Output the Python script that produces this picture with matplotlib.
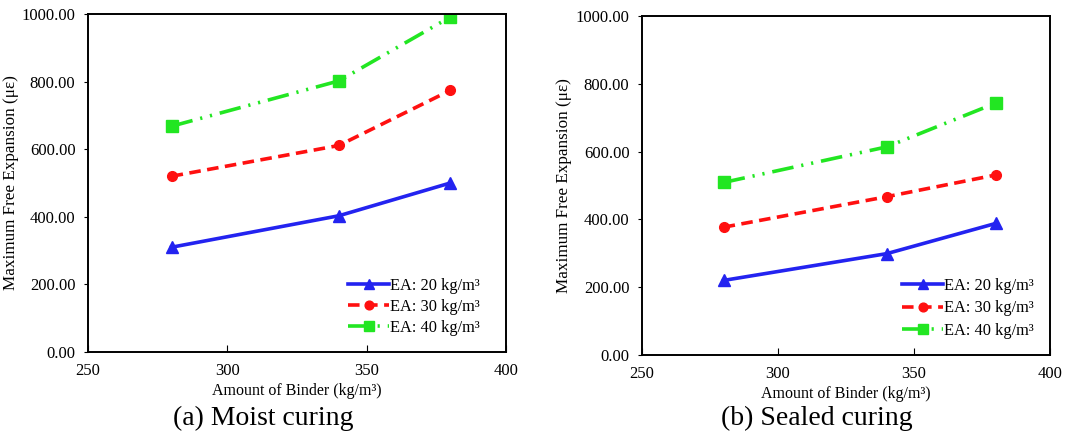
import matplotlib
matplotlib.use("Agg")
import matplotlib.pyplot as plt

plt.rcParams["font.family"] = ["Liberation Serif", "DejaVu Serif"]

binder = [280, 340, 380]
labels = ["EA: 20 kg/m³", "EA: 30 kg/m³", "EA: 40 kg/m³"]

moist_ea20 = [310, 403, 500]
moist_ea30 = [520, 611, 774]
moist_ea40 = [668, 802, 991]

sealed_ea20 = [220, 299, 388]
sealed_ea30 = [377, 467, 531]
sealed_ea40 = [509, 614, 743]

captions = ["(a) Moist curing", "(b) Sealed curing"]

styles = [
    dict(color="#2323F0", linestyle="-", marker="^", markersize=8),
    dict(color="#FF1010", linestyle=(0, (3.2, 1.8)), marker="o", markersize=7),
    dict(color="#22E622", linestyle=(0, (6, 2.2, 0.6, 2.2, 0.6, 2.2)), marker="s", markersize=8),
]

fig = plt.figure(figsize=(10.92, 4.36), dpi=100)
W, H = 1092, 436
ax1 = fig.add_axes([88 / W, (H - 352) / H, 418 / W, 338 / H])
ax2 = fig.add_axes([642 / W, (H - 355) / H, 408 / W, 339 / H])

panels = [
    (ax1, [moist_ea20, moist_ea30, moist_ea40], 263, -0.165, (0.976, 0.0), 0.3),
    (ax2, [sealed_ea20, sealed_ea30, sealed_ea40], 817, -0.172, (1.0, 0.0), 0.38),
]

for (ax, series, cx, ylx, anchor, lsp), cap in zip(panels, captions):
    for vals, lab, st in zip(series, labels, styles):
        ax.plot(binder, vals, linewidth=2.6, label=lab, **st)
    ax.set_xlim(250, 400)
    ax.set_ylim(0, 1000)
    ax.set_xticks([250, 300, 350, 400])
    ax.set_yticks([0, 200, 400, 600, 800, 1000])
    ax.set_yticklabels([f"{v:.2f}" for v in [0, 200, 400, 600, 800, 1000]])
    ax.tick_params(axis="x", direction="in", length=5, width=0.8, labelsize=12, pad=8)
    ax.tick_params(axis="y", direction="out", length=3, width=0.8, labelsize=12, pad=6)
    for sp in ax.spines.values():
        sp.set_linewidth(1.4)
    ax.set_xlabel("Amount of Binder (kg/m³)", fontsize=11.5, labelpad=3)
    ax.set_ylabel("Maximum Free Expansion (με)", fontsize=12.3)
    ax.yaxis.set_label_coords(ylx, 0.5)
    ax.legend(loc="lower right", bbox_to_anchor=anchor, frameon=False, fontsize=11.8,
              handlelength=2.5, handletextpad=0.05, labelspacing=lsp, borderaxespad=0.6,
              markerscale=0.9)
    fig.text(cx / W, (H - 418) / H, cap, ha="center", va="center", fontsize=20)

fig.savefig("out.png", dpi=100)
